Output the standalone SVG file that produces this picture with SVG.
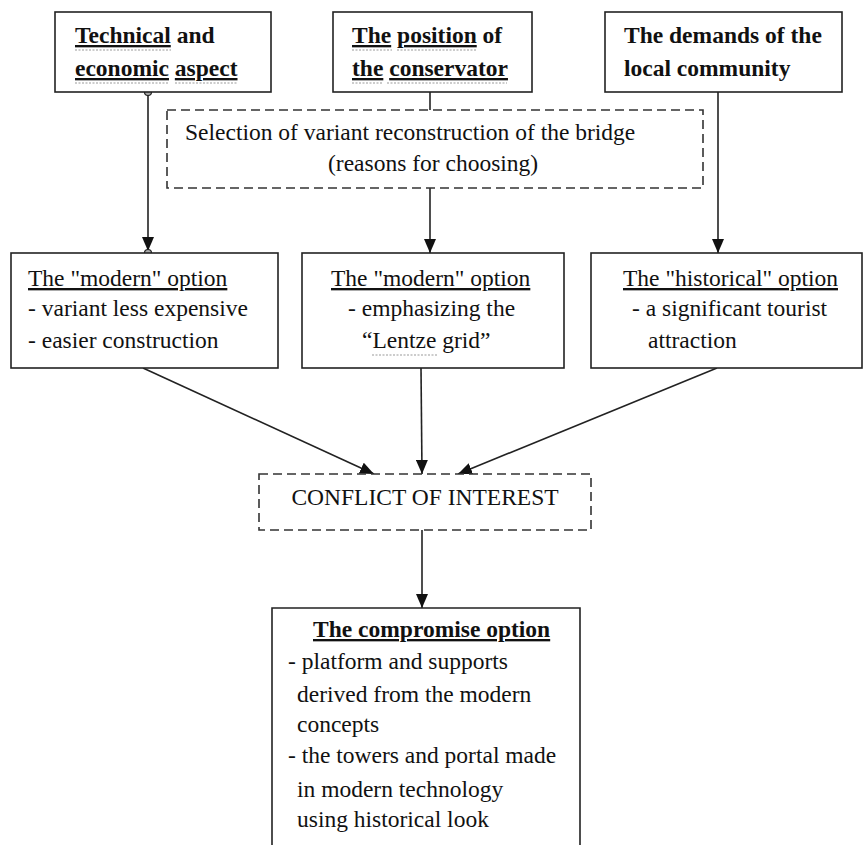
<svg xmlns="http://www.w3.org/2000/svg" width="864" height="845" viewBox="0 0 864 845">
<style>
.box{fill:#fff;stroke:#222;stroke-width:1.6}
.dbox{fill:#fff;stroke:#333;stroke-width:1.6;stroke-dasharray:9 5}
.t{font-family:"Liberation Serif","Times New Roman",serif;font-size:23.5px;fill:#111}
.b{font-weight:bold}
.u{text-decoration:underline}
.c{stroke:#222;stroke-width:1.6;fill:none}
.w{stroke:#999;stroke-width:1.2;fill:none;stroke-dasharray:2 1.5}
</style>
<defs>
<marker id="arr" viewBox="0 0 14 12" refX="14" refY="6" markerWidth="14" markerHeight="12" markerUnits="userSpaceOnUse" orient="auto">
<path d="M0,0 L14,6 L0,12 z" fill="#111"/>
</marker>
</defs>

<g id="connectors">
<line class="c" x1="148" y1="92" x2="148" y2="251" marker-end="url(#arr)"/>
<circle cx="148" cy="92" r="3.5" fill="#aaa" stroke="#222" stroke-width="1.2"/>
<circle cx="148" cy="253" r="3.5" fill="#aaa" stroke="#222" stroke-width="1.2"/>
<line class="c" x1="430" y1="92" x2="430" y2="110"/>
<line class="c" x1="430" y1="188" x2="430" y2="253" marker-end="url(#arr)"/>
<line class="c" x1="718" y1="92" x2="718" y2="253" marker-end="url(#arr)"/>
<line class="c" x1="143" y1="368" x2="374" y2="474" marker-end="url(#arr)"/>
<line class="c" x1="421" y1="368" x2="422" y2="474" marker-end="url(#arr)"/>
<line class="c" x1="717" y1="368" x2="458" y2="474" marker-end="url(#arr)"/>
<line class="c" x1="422" y1="530" x2="422" y2="608" marker-end="url(#arr)"/>
</g>

<g id="technical">
<rect class="box" x="55" y="12" width="216" height="80"/>
<text class="t b" x="75" y="43"><tspan class="u">Technical</tspan> and</text>
<text class="t b" x="75" y="76"><tspan class="u">economic</tspan> <tspan class="u">aspect</tspan></text>
<line class="w" x1="75" y1="50" x2="171" y2="50"/>
<line class="w" x1="75" y1="83" x2="168" y2="83"/>
<line class="w" x1="175" y1="83" x2="238" y2="83"/>
</g>

<g id="conservator">
<rect class="box" x="333" y="12" width="199" height="80"/>
<text class="t b" x="352" y="43"><tspan class="u">The</tspan> <tspan class="u">position</tspan> of</text>
<text class="t b" x="352" y="76"><tspan class="u">the</tspan> <tspan class="u">conservator</tspan></text>
<line class="w" x1="352" y1="50" x2="392" y2="50"/>
<line class="w" x1="397" y1="50" x2="477" y2="50"/>
<line class="w" x1="352" y1="83" x2="382" y2="83"/>
<line class="w" x1="387" y1="83" x2="507" y2="83"/>
</g>

<g id="community">
<rect class="box" x="605" y="12" width="237" height="80"/>
<text class="t b" x="624" y="43">The demands of the</text>
<text class="t b" x="624" y="76">local community</text>
</g>

<g id="selection">
<rect class="dbox" x="167" y="110" width="536" height="78"/>
<text class="t" x="185" y="140">Selection of variant reconstruction of the bridge</text>
<text class="t" x="328" y="171">(reasons for choosing)</text>
</g>

<g id="modern1">
<rect class="box" x="11" y="253" width="267" height="115"/>
<text class="t u" x="28" y="286">The "modern" option</text>
<text class="t" x="28" y="316">- variant less expensive</text>
<text class="t" x="28" y="348">- easier construction</text>
</g>

<g id="modern2">
<rect class="box" x="302" y="253" width="262" height="115"/>
<text class="t u" x="331" y="286">The "modern" option</text>
<text class="t" x="348" y="316">- emphasizing the</text>
<text class="t" x="362" y="348">“Lentze grid”</text>
<line class="w" x1="372" y1="355" x2="438" y2="355"/>
</g>

<g id="historical">
<rect class="box" x="591" y="253" width="271" height="115"/>
<text class="t u" x="623" y="286">The "historical" option</text>
<text class="t" x="632" y="316">- a significant tourist</text>
<text class="t" x="648" y="348">attraction</text>
</g>

<g id="conflict">
<rect class="dbox" x="259" y="474" width="332" height="56"/>
<text class="t" x="425" y="505" text-anchor="middle">CONFLICT OF INTEREST</text>
</g>

<g id="compromise">
<path class="c" d="M272,850 V608 H580 V850" fill="#fff"/>
<text class="t b u" x="313" y="637">The compromise option</text>
<text class="t" x="288" y="669">- platform and supports</text>
<text class="t" x="297" y="702">derived from the modern</text>
<text class="t" x="297" y="732">concepts</text>
<text class="t" x="288" y="763">- the towers and portal made</text>
<text class="t" x="297" y="797">in modern technology</text>
<text class="t" x="297" y="827">using historical look</text>
</g>
</svg>
